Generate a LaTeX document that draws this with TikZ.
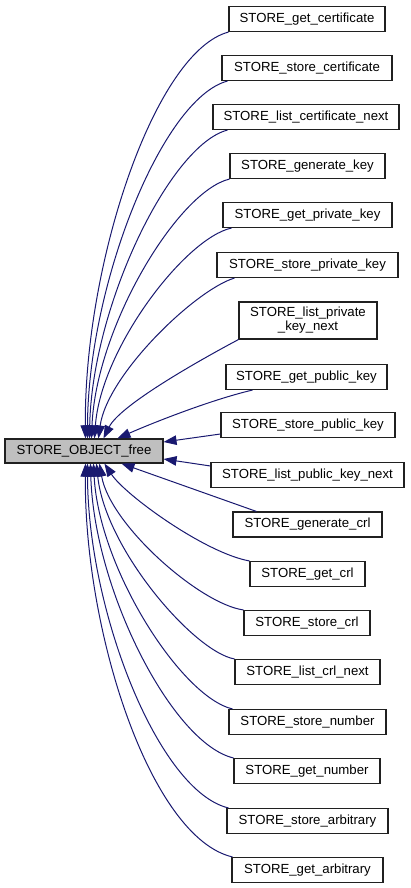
\documentclass[tikz,border=0pt]{standalone}
\usepackage{fontspec}
\setmainfont{Liberation Sans}
\usetikzlibrary{arrows.meta}
\definecolor{edgeblue}{HTML}{191970}
\definecolor{maingray}{HTML}{BFBFBF}
\definecolor{boxline}{HTML}{202020}
\begin{document}
\begin{tikzpicture}[x=1pt,y=-1pt,
  fbox/.style={draw=boxline, line width=1.1pt, inner sep=0pt, minimum height=25pt,
    font=\fontsize{13.2}{14}\selectfont, align=center},
  edge/.style={draw=edgeblue, line width=1pt, -{Triangle[length=13pt,width=9.5pt]}}]
\useasboundingbox (0,0) rectangle (410,888);
\node[fbox, fill=maingray, minimum width=158pt, minimum height=24pt] (main) at (84,451) {STORE\_OBJECT\_free};
\node[fbox, minimum width=156pt] (b1) at (307,19) {STORE\_get\_certificate};
\node[fbox, minimum width=170pt] (b2) at (307,68) {STORE\_store\_certificate};
\node[fbox, minimum width=186pt] (b3) at (306,117) {STORE\_list\_certificate\_next};
\node[fbox, minimum width=155pt] (b4) at (307.5,166) {STORE\_generate\_key};
\node[fbox, minimum width=169pt] (b5) at (307.5,215) {STORE\_get\_private\_key};
\node[fbox, minimum width=181pt] (b6) at (307.5,265) {STORE\_store\_private\_key};
\node[fbox, minimum width=138pt, minimum height=37pt] (b7) at (308,320.5) {STORE\_list\_private\\\_key\_next};
\node[fbox, minimum width=161pt] (b8) at (306.5,377) {STORE\_get\_public\_key};
\node[fbox, minimum width=174pt] (b9) at (308,425) {STORE\_store\_public\_key};
\node[fbox, minimum width=193pt] (b10) at (307.5,475) {STORE\_list\_public\_key\_next};
\node[fbox, minimum width=149pt] (b11) at (307.5,524.5) {STORE\_generate\_crl};
\node[fbox, minimum width=115pt] (b12) at (307.5,574) {STORE\_get\_crl};
\node[fbox, minimum width=126pt] (b13) at (307,623) {STORE\_store\_crl};
\node[fbox, minimum width=145pt] (b14) at (307.5,672) {STORE\_list\_crl\_next};
\node[fbox, minimum width=157pt] (b15) at (307.5,722) {STORE\_store\_number};
\node[fbox, minimum width=146pt] (b16) at (307,771) {STORE\_get\_number};
\node[fbox, minimum width=161pt] (b17) at (307.5,821) {STORE\_store\_arbitrary};
\node[fbox, minimum width=151pt] (b18) at (307.5,870) {STORE\_get\_arbitrary};
% upper edges
\draw[edge] (b1.south west) .. controls (154.6,51.9) and (84,263.8) .. ([xshift=81pt]main.north west);
\draw[edge] ([xshift=6pt]b2.south west) .. controls (162.2,98.4) and (88,284.8) .. ([xshift=83pt]main.north west);
\draw[edge] ([xshift=15pt]b3.south west) .. controls (170,145) and (92,305.9) .. ([xshift=85pt]main.north west);
\draw[edge] (b4.south west) .. controls (177.6,191.5) and (96,327) .. ([xshift=87pt]main.north west);
\draw[edge] ([xshift=9pt]b5.south west) .. controls (185.4,238) and (101,348) .. ([xshift=90pt]main.north west);
\draw[edge] ([xshift=18pt]b6.south west) .. controls (195,290) and (107,375) .. ([xshift=94pt]main.north west);
\draw[edge] (b7.south west) .. controls (200,360) and (120,405) .. ([xshift=99pt]main.north west);
\draw[edge] ([xshift=27pt]b8.south west) .. controls (210,400) and (150,424) .. ([xshift=113pt]main.north west);
% side edges
\draw[edge] ([yshift=-9pt]b9.west) -- ([yshift=9pt]main.east);
\draw[edge] ([yshift=9pt]b10.west) -- ([yshift=-8pt]main.east);
% lower edges
\draw[edge] ([xshift=24pt]b11.north west) -- ([xshift=117pt]main.south west);
\draw[edge] (b12.north west) .. controls (205,553) and (125,495) .. ([xshift=100pt]main.south west);
\draw[edge] (b13.north west) .. controls (200,604) and (110,525) .. ([xshift=95pt]main.south west);
\draw[edge] (b14.north west) .. controls (193.6,651.6) and (105,548.4) .. ([xshift=92pt]main.south west);
\draw[edge] ([xshift=4pt]b15.north west) .. controls (181.6,697.2) and (99,569) .. ([xshift=89pt]main.south west);
\draw[edge] (b16.north west) .. controls (172.5,743.7) and (94,590.1) .. ([xshift=86pt]main.south west);
\draw[edge] ([xshift=2pt]b17.north west) .. controls (158.5,791.2) and (88,611.6) .. ([xshift=83pt]main.south west);
\draw[edge] ([xshift=1pt]b18.north west) .. controls (150.7,837.8) and (84,632.6) .. ([xshift=81pt]main.south west);
\end{tikzpicture}
\end{document}
